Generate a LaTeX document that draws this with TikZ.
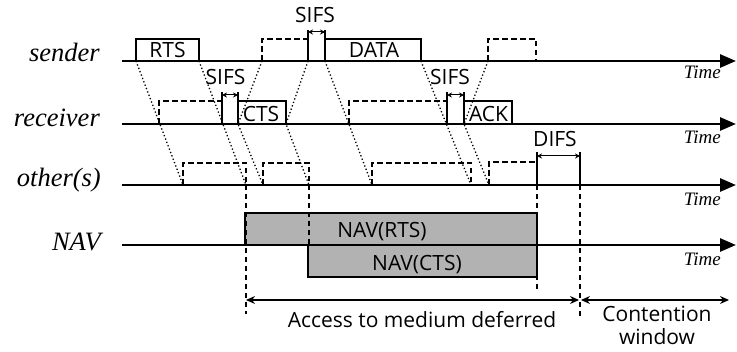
\documentclass[tikz,border=0pt]{standalone}
\usepackage{fontspec}
\setmainfont{Liberation Serif}
\newfontfamily\labfont{Open Sans}
\usetikzlibrary{arrows.meta}
\definecolor{navgray}{RGB}{178,178,178}
\begin{document}
\begin{tikzpicture}[x=1pt,y=-1pt,
  axis/.style={line width=2.8pt,-{Triangle[length=16pt,width=13pt]}},
  frame/.style={draw,line width=1.3pt},
  dsh/.style={line width=1.2pt,dash pattern=on 5.5pt off 3.5pt},
  dotl/.style={line width=1.3pt,dash pattern=on 1.3pt off 2.3pt},
  lab/.style={font=\labfont\fontsize{21}{21}\selectfont,inner sep=0pt,anchor=base},
  who/.style={font=\itshape\fontsize{26.5}{26.5}\selectfont,anchor=base east,inner sep=0pt},
  tm/.style={font=\itshape\fontsize{19}{19}\selectfont,anchor=base east,inner sep=0pt},
  dim/.style={line width=1pt,{Stealth[length=5pt,width=5pt]}-{Stealth[length=5pt,width=5pt]}},
  bigdim/.style={line width=1.1pt,{Stealth[length=9pt,width=8pt]}-{Stealth[length=9pt,width=8pt]}},
]
\useasboundingbox (0,0) rectangle (737,352);

% row labels
\node[who] (lsender) at (100,62) {sender};
\node[who] (lreceiver) at (100,126.5) {receiver};
\node[who] (lother) at (101,187) {other(s)};
\node[who] (lnav) at (101,251) {NAV};

% NAV boxes
\draw[frame,fill=navgray] (245,213) rectangle (537,245);
\draw[frame,fill=navgray] (308,245) rectangle (537,277);
\node[lab] (navrts) at (382,238) {NAV(RTS)};
\node[lab] (navcts) at (417,270.5) {NAV(CTS)};

% time axes
\draw[axis] (122,61) -- (736,61);
\draw[axis] (122,124) -- (736,124);
\draw[axis] (122,185) -- (736,185);
\draw[axis] (122,245) -- (736,245);
\node[tm] (t1) at (721,78.5) {Time};
\node[tm] (t2) at (721,143.5) {Time};
\node[tm] (t3) at (721,205.5) {Time};
\node[tm] (t4) at (721,265.5) {Time};

% sender
\draw[frame] (136,61) -- (136,39) -- (199,39) -- (199,61);
\node[lab] (rts) at (167.5,58) {RTS};
\draw[dsh] (262,61) -- (262,39) -- (308,39);
\draw[frame] (308,30) -- (308,61);
\draw[frame] (325,30) -- (325,61);
\draw[frame] (325,39) -- (421,39) -- (421,61);
\node[lab] (data) at (374,58) {DATA};
\draw[dim] (308,32) -- (325,32);
\node[lab] (sifs1) at (315,23) {SIFS};
\draw[dsh] (488,61) -- (488,39) -- (536,39) -- (536,61);

% receiver
\draw[dsh] (159,124) -- (159,101) -- (222,101);
\draw[frame] (222,92) -- (222,124);
\draw[frame] (238,92) -- (238,124);
\draw[frame] (238,101) -- (286,101) -- (286,124);
\node[lab] (cts) at (261,121.5) {CTS};
\draw[dim] (222,95) -- (238,95);
\node[lab] (sifs2) at (225.5,85) {SIFS};
\draw[dsh] (349,124) -- (349,101) -- (447,101);
\draw[frame] (447,92) -- (447,124);
\draw[frame] (464,92) -- (464,124);
\draw[frame] (464,101) -- (512,101) -- (512,124);
\node[lab] (ack) at (488.5,121.5) {ACK};
\draw[dim] (447,95) -- (464,95);
\node[lab] (sifs3) at (450,85) {SIFS};

% other(s)
\draw[dsh] (183,185) -- (183,163) -- (246,163) -- (246,185);
\draw[dsh] (263,185) -- (263,163) -- (309,163) -- (309,185);
\draw[dsh] (372,185) -- (372,163) -- (471,163) -- (471,185);
\draw[dsh] (489,185) -- (489,162) -- (537,162);
\draw[frame] (537,152) -- (537,185);
\draw[frame] (580,152) -- (580,185);
\draw[dim] (537,156) -- (580,156);
\node[lab] (difs) at (555,147) {DIFS};

% propagation lines
\draw[dotl] (136,61) -- (183,185);
\draw[dotl] (199,61) -- (246,185);
\draw[dotl] (262,61) -- (238,124) -- (263,185);
\draw[dotl] (308,61) -- (286,124) -- (309,185);
\draw[dotl] (325,61) -- (372,185);
\draw[dotl] (421,61) -- (471,185);
\draw[dotl] (488,61) -- (464,124) -- (489,185);

% long dashed markers
\draw[dsh] (246,185) -- (246,314);
\draw[dsh] (309,185) -- (309,245);
\draw[dsh] (537,185) -- (537,292);
\draw[dsh] (580,185) -- (580,317);

% bottom spans
\draw[bigdim] (246,300) -- (579,300);
\draw[bigdim] (581,300) -- (729,300);
\node[lab] (defer) at (422,327.5) {Access to medium deferred};
\node[lab] (cw1) at (657,322) {Contention};
\node[lab] (cw2) at (657,344.5) {window};
\end{tikzpicture}
\end{document}
